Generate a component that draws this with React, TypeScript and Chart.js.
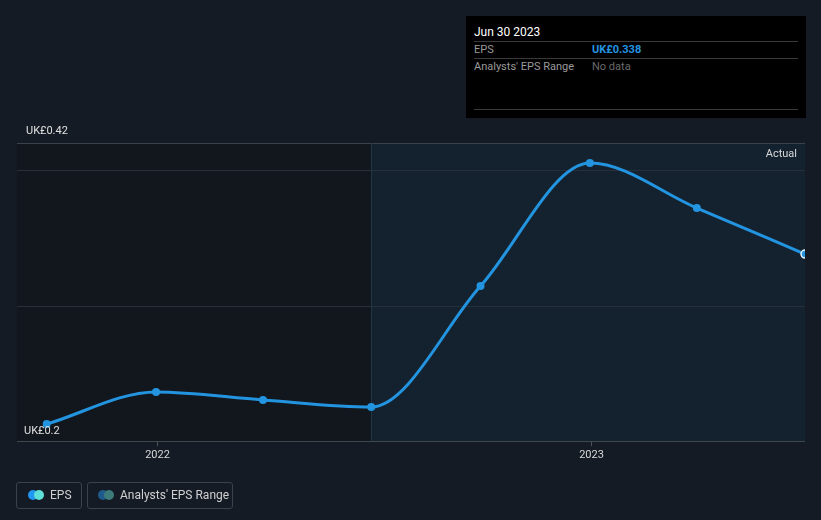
import React, { useEffect, useRef } from "react";
import { Chart, registerables } from "chart.js";

Chart.register(...registerables);

const dates = [
  "2021-09-30",
  "2021-12-31",
  "2022-03-31",
  "2022-06-30",
  "2022-09-30",
  "2022-12-31",
  "2023-03-31",
  "2023-06-30",
];
const eps = [0.2125, 0.2362, 0.2303, 0.2251, 0.3144, 0.4052, 0.372, 0.338];
const yTickValues = [0.2, 0.42];
const yTickLabels = ["UK£0.2", "UK£0.42"];
const gridValues = [0.3, 0.4];
const xTickYears = [2022, 2023];
const forecastStart = "2022-06-30";
const xMinDate = "2021-09-05";

const DAY = 86400000;
const toDay = (s: string) => Date.parse(s + "T00:00:00Z") / DAY;

const FONT = "Roboto, 'Open Sans', sans-serif";

const overlayPlugin = {
  id: "overlay",
  beforeDatasetsDraw(chart: any) {
    const { ctx, chartArea, scales } = chart;
    const x = scales.x;
    const y = scales.y;
    const split = x.getPixelForValue(toDay(forecastStart));
    ctx.save();
    ctx.fillStyle = "#12161d";
    ctx.fillRect(chartArea.left, chartArea.top, split - chartArea.left, chartArea.bottom - chartArea.top);
    ctx.fillStyle = "#14222f";
    ctx.fillRect(split, chartArea.top, chartArea.right - split, chartArea.bottom - chartArea.top);
    ctx.strokeStyle = "#27303a";
    ctx.lineWidth = 1;
    for (const g of gridValues) {
      const py = Math.round(y.getPixelForValue(g)) + 0.5;
      ctx.beginPath();
      ctx.moveTo(chartArea.left, py);
      ctx.lineTo(chartArea.right, py);
      ctx.stroke();
    }
    ctx.strokeStyle = "#3b424b";
    let py = Math.round(y.getPixelForValue(0.42)) + 0.5;
    ctx.beginPath();
    ctx.moveTo(chartArea.left, py);
    ctx.lineTo(chartArea.right, py);
    ctx.stroke();
    ctx.strokeStyle = "#3f464e";
    py = Math.round(y.getPixelForValue(0.2)) + 0.5;
    ctx.beginPath();
    ctx.moveTo(chartArea.left, py);
    ctx.lineTo(chartArea.right, py);
    ctx.stroke();
    ctx.strokeStyle = "#1f3447";
    const sx = Math.round(split) + 0.5;
    ctx.beginPath();
    ctx.moveTo(sx, chartArea.top);
    ctx.lineTo(sx, chartArea.bottom);
    ctx.stroke();
    ctx.strokeStyle = "#4a5159";
    ctx.fillStyle = "#d8d8d8";
    ctx.font = `11px ${FONT}`;
    ctx.textAlign = "center";
    ctx.textBaseline = "middle";
    for (const yr of xTickYears) {
      const px = Math.round(x.getPixelForValue(toDay(`${yr}-01-01`))) + 0.5;
      ctx.beginPath();
      ctx.moveTo(px, chartArea.bottom);
      ctx.lineTo(px, chartArea.bottom + 5);
      ctx.stroke();
      ctx.fillText(String(yr), px, chartArea.bottom + 14);
    }
    ctx.textAlign = "right";
    ctx.fillText("Actual", chartArea.right - 8, chartArea.top + 11);
    ctx.restore();
  },
  afterDatasetsDraw(chart: any) {
    const { ctx, chartArea, scales } = chart;
    const y = scales.y;
    ctx.save();
    ctx.fillStyle = "#e0e0e0";
    ctx.font = `11px ${FONT}`;
    ctx.textAlign = "left";
    ctx.textBaseline = "middle";
    yTickValues.forEach((v, i) => {
      const py = y.getPixelForValue(v);
      const off = v === 0.42 ? -12 : -10;
      ctx.fillText(yTickLabels[i], chartArea.left + (v === 0.42 ? 9 : 7), py + off);
    });
    ctx.restore();
  },
};

export default function App() {
  const ref = useRef<HTMLCanvasElement | null>(null);
  useEffect(() => {
    document.body.style.margin = "0";
    const data = dates.map((d, i) => ({ x: toDay(d), y: eps[i] }));
    const last = data.length - 1;
    const chart = new Chart(ref.current as HTMLCanvasElement, {
      type: "line",
      data: {
        datasets: [
          {
            label: "EPS",
            data,
            borderColor: "#2394e0",
            backgroundColor: "#2394e0",
            borderWidth: 3,
            cubicInterpolationMode: "monotone",
            pointRadius: 4,
            pointBorderWidth: data.map((_, i) => (i === last ? 1.5 : 0)),
            pointBorderColor: data.map((_, i) => (i === last ? "#e8f4ff" : "#2394e0")),
            pointBackgroundColor: "#2394e0",
          } as any,
        ],
      },
      options: {
        animation: false,
        responsive: false,
        maintainAspectRatio: false,
        layout: { padding: { left: 17, right: 16, top: 143, bottom: 79 } },
        plugins: { legend: { display: false }, tooltip: { enabled: false } },
        scales: {
          x: { type: "linear", display: false, min: toDay(xMinDate), max: toDay(dates[dates.length - 1]) },
          y: { type: "linear", display: false, min: 0.2, max: 0.42 },
        },
      },
      plugins: [overlayPlugin],
    });
    return () => chart.destroy();
  }, []);

  const txt: React.CSSProperties = { position: "absolute", fontFamily: FONT, fontSize: 11, whiteSpace: "nowrap" };
  const sep: React.CSSProperties = { position: "absolute", left: 8, width: 324, height: 1, background: "#3a3a3a" };

  return (
    <div style={{ position: "absolute", left: 0, top: 0, width: 821, height: 520, background: "#151b24", overflow: "hidden" }}>
      <canvas ref={ref} width={821} height={520} style={{ position: "absolute", left: 0, top: 0 }} />
      <div style={{ position: "absolute", left: 466, top: 16, width: 340, height: 102, background: "#000" }}>
        <div style={{ ...txt, left: 8, top: 9, color: "#fff", fontSize: 12 }}>Jun 30 2023</div>
        <div style={{ ...sep, top: 25 }} />
        <div style={{ ...txt, left: 8, top: 27, color: "#9a9a9a" }}>EPS</div>
        <div style={{ ...txt, left: 126, top: 27, color: "#2394e0", fontWeight: "bold" }}>UK£0.338</div>
        <div style={{ ...sep, top: 42 }} />
        <div style={{ ...txt, left: 8, top: 44, color: "#9a9a9a" }}>Analysts' EPS Range</div>
        <div style={{ ...txt, left: 126, top: 44, color: "#6a6a6a" }}>No data</div>
        <div style={{ ...sep, top: 93 }} />
      </div>
      <div style={{ position: "absolute", left: 16, top: 482, width: 64, height: 25, border: "1px solid #3a424b", borderRadius: 3 }}>
        <div style={{ position: "absolute", left: 11, top: 7, width: 10, height: 10, borderRadius: 5, background: "#2196f3" }} />
        <div style={{ position: "absolute", left: 17, top: 7, width: 10, height: 10, borderRadius: 5, background: "#5ee0d8" }} />
        <div style={{ ...txt, left: 33, top: 5, color: "#d0d0d0", fontSize: 12 }}>EPS</div>
      </div>
      <div style={{ position: "absolute", left: 87, top: 482, width: 144, height: 25, border: "1px solid #3a424b", borderRadius: 3 }}>
        <div style={{ position: "absolute", left: 10, top: 7, width: 10, height: 10, borderRadius: 5, background: "#1f5a8a" }} />
        <div style={{ position: "absolute", left: 16, top: 7, width: 10, height: 10, borderRadius: 5, background: "#3d7a7a" }} />
        <div style={{ ...txt, left: 32, top: 5, color: "#d0d0d0", fontSize: 12 }}>Analysts' EPS Range</div>
      </div>
    </div>
  );
}
